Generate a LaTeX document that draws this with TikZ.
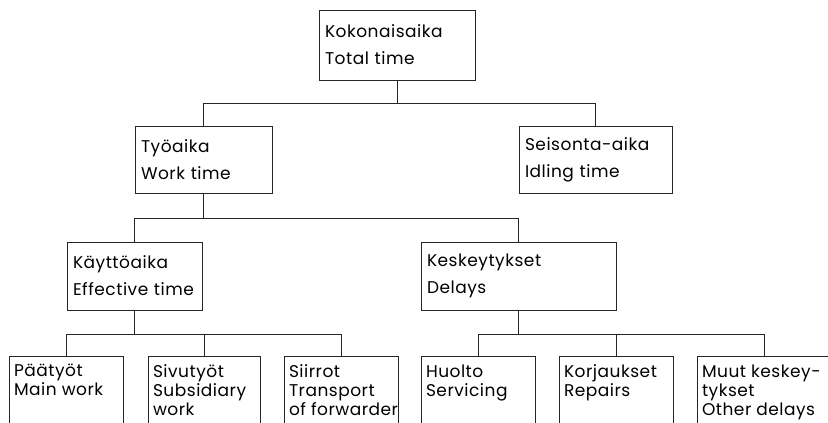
\documentclass[tikz,border=0pt]{standalone}
\usepackage{fontspec}
\setmainfont[LetterSpace=3]{Poppins}
\newcommand{\leaflines}[2]{\parbox[t][64pt][t]{#1}{#2}}

\begin{document}
\begin{tikzpicture}[x = 1pt, y = -1pt, line width = 0.9pt, draw = black!85,
  box/.style = {draw, align = left, inner xsep = 6pt, inner ysep = 0pt, font = \fontsize{17}{27}\selectfont},
  leaf/.style = {draw, anchor = north, inner xsep = 5pt, inner ysep = 8pt, font = \fontsize{17}{19}\selectfont}]
\clip (0,0) rectangle (828,423);
\node[box, text width = 144pt, minimum height = 70pt] at (397,45) (kok) {Kokonaisaika\\Total time};
\node[box, text width = 125pt, minimum height = 67pt] at (203.5,159.5) (tyo) {Työaika\\Work time};
\node[box, text width = 141pt, minimum height = 67pt] at (595.5,159.5) (seis) {Seisonta-aika\\Idling time};
\node[box, text width = 123pt, minimum height = 68pt] at (134.5,276) (kaytto) {Käyttöaika\\Effective time};
\node[box, text width = 183pt, minimum height = 68pt] at (518.5,276) (kesk) {Keskeytykset\\Delays};
\node[leaf] at (66,356) (paa) {\leaflines{104pt}{Päätyöt\\Main work}};
\node[leaf] at (204,356) (sivu) {\leaflines{102pt}{Sivutyöt\\Subsidiary\\work}};
\node[leaf] at (341,356) (siir) {\leaflines{104pt}{Siirrot\\Transport\\\mbox{of forwarder}}};
\node[leaf] at (478,356) (huol) {\leaflines{104pt}{Huolto\\Servicing}};
\node[leaf] at (616,356) (korj) {\leaflines{104pt}{Korjaukset\\Repairs}};
\node[leaf] at (764,356) (muut) {\leaflines{124pt}{Muut keskey-\\tykset\\Other delays}};
\draw (kok.south) -- +(0,23) -| (tyo.north);
\draw (kok.south) -- +(0,23) -| (seis.north);
\draw (tyo.south) -- +(0,25) -| (kaytto.north);
\draw (tyo.south) -- +(0,25) -| (kesk.north);
\draw (kaytto.south) -- +(0,24) -| (paa.north);
\draw (kaytto.south) -- +(0,24) -| (sivu.north);
\draw (kaytto.south) -- +(0,24) -| (siir.north);
\draw (kesk.south) -- +(0,24) -| (huol.north);
\draw (kesk.south) -- +(0,24) -| (korj.north);
\draw (kesk.south) -- +(0,24) -| (muut.north);
\end{tikzpicture}
\end{document}
